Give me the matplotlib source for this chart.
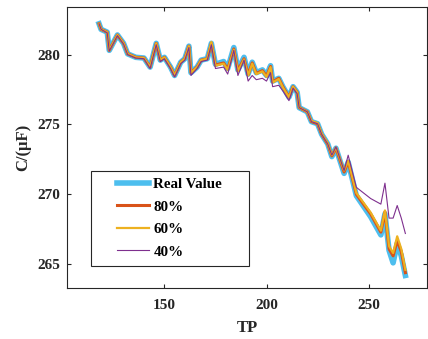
import matplotlib.pyplot as plt
from matplotlib.patches import Rectangle

# TP values (shared x)
tp = [118, 119, 122, 123, 127, 130, 132, 136, 140, 143, 146, 148, 150, 153, 155,
      158, 160, 162, 163, 166, 168, 171, 173, 175, 179, 181, 184, 186, 189, 191,
      193, 195, 198, 200, 202, 203, 206, 208, 211, 213, 215, 216, 220, 222, 225,
      227, 230, 232, 234, 238, 240, 244, 251, 256, 258, 260, 262, 264, 266, 268]

real_value = [282.2, 281.8, 281.6, 280.3, 281.4, 280.8, 280.05, 279.8, 279.75, 279.1,
              280.8, 279.6, 279.8, 279.1, 278.5, 279.45, 279.7, 280.6, 278.7, 279.1,
              279.6, 279.7, 280.8, 279.3, 279.5, 279.0, 280.5, 278.9, 279.8, 278.6,
              279.45, 278.7, 278.9, 278.5, 279.2, 278.1, 278.3, 277.7, 276.95, 277.7,
              277.3, 276.2, 275.9, 275.2, 275.05, 274.3, 273.6, 272.7, 273.3, 271.5,
              272.3, 269.9, 268.4, 267.1, 268.6, 266.0, 265.1, 266.5, 265.6, 264.2]

p80 = [282.2, 281.8, 281.6, 280.3, 281.4, 280.8, 280.05, 279.8, 279.75, 279.1,
       280.8, 279.6, 279.8, 279.1, 278.5, 279.45, 279.7, 280.6, 278.7, 279.1,
       279.6, 279.7, 280.8, 279.25, 279.4, 278.95, 280.4, 278.85, 279.7, 278.55,
       279.4, 278.65, 278.85, 278.45, 279.15, 278.05, 278.3, 277.7, 276.95, 277.7,
       277.3, 276.2, 275.9, 275.2, 275.05, 274.3, 273.6, 272.75, 273.3, 271.6,
       272.35, 270.0, 268.6, 267.3, 268.75, 266.1, 265.6, 266.7, 265.9, 264.4]

p60 = [282.2, 281.8, 281.6, 280.3, 281.4, 280.8, 280.05, 279.8, 279.75, 279.1,
       280.8, 279.6, 279.8, 279.1, 278.5, 279.45, 279.7, 280.6, 278.7, 279.1,
       279.6, 279.7, 280.9, 279.2, 279.35, 278.9, 280.35, 278.8, 279.65, 278.5,
       279.35, 278.6, 278.8, 278.4, 279.1, 278.0, 278.25, 277.65, 276.95, 277.7,
       277.3, 276.2, 275.9, 275.25, 275.1, 274.35, 273.65, 272.8, 273.35, 271.7,
       272.4, 270.1, 268.7, 267.4, 268.85, 266.3, 265.8, 267.0, 266.1, 264.6]

p40 = [282.2, 281.8, 281.55, 280.25, 281.35, 280.75, 280.0, 279.75, 279.7, 279.0,
       280.7, 279.5, 279.7, 279.0, 278.4, 279.35, 279.6, 280.5, 278.5, 279.0,
       279.5, 279.6, 280.7, 279.0, 279.1, 278.6, 280.3, 278.5, 279.6, 278.1,
       278.5, 278.2, 278.3, 278.1, 278.7, 277.7, 277.8, 277.4, 276.7, 277.6,
       277.2, 276.2, 275.9, 275.2, 275.05, 274.3, 273.6, 272.8, 273.4, 271.7,
       272.8, 270.5, 269.7, 269.3, 270.8, 268.3, 268.3, 269.2, 268.3, 267.2]

plt.rcParams['font.family'] = 'Liberation Serif'
plt.rcParams['font.weight'] = 'bold'

fig = plt.figure(figsize=(4.28, 3.39), dpi=100)
ax = fig.add_axes([0.1565, 0.1504, 0.8412, 0.829])

ax.plot(tp, real_value, color='#4DBEEE', lw=4.0, label='Real Value')
ax.plot(tp, p80, color='#D95319', lw=2.2, label='80%')
ax.plot(tp, p60, color='#EDB120', lw=1.6, label='60%')
ax.plot(tp, p40, color='#7E2F8E', lw=0.8, label='40%')

ax.set_xlim(102.3, 278.6)
ax.set_ylim(263.3, 283.4)
ax.set_xticks([150, 200, 250])
ax.set_yticks([265, 270, 275, 280])
ax.tick_params(direction='in', length=3, width=0.8, top=True, right=True,
               labelsize=11, colors='#262626', pad=5)
ax.tick_params(axis='x', pad=8)
for s in ax.spines.values():
    s.set_color('#262626')
    s.set_linewidth(0.8)

ax.set_xlabel('TP', fontsize=12, fontweight='bold', color='#262626', labelpad=6)
ax.set_ylabel('C/(μF)', fontsize=12, fontweight='bold', color='#262626')

# legend box drawn as MATLAB-like frame
ax.add_patch(Rectangle((0.0667, 0.0783), 0.4389, 0.3391, transform=ax.transAxes,
                       facecolor='white', edgecolor='#262626', lw=0.8, zorder=4))
leg = ax.legend(loc='center', bbox_to_anchor=(0.2847, 0.2484), fontsize=10.8,
                frameon=False, handlelength=2.15, handletextpad=0.28,
                borderpad=0, labelspacing=0.6)
leg.set_zorder(5)
for t in leg.get_texts():
    t.set_fontweight('bold')

fig.savefig('out.png', dpi=100)
